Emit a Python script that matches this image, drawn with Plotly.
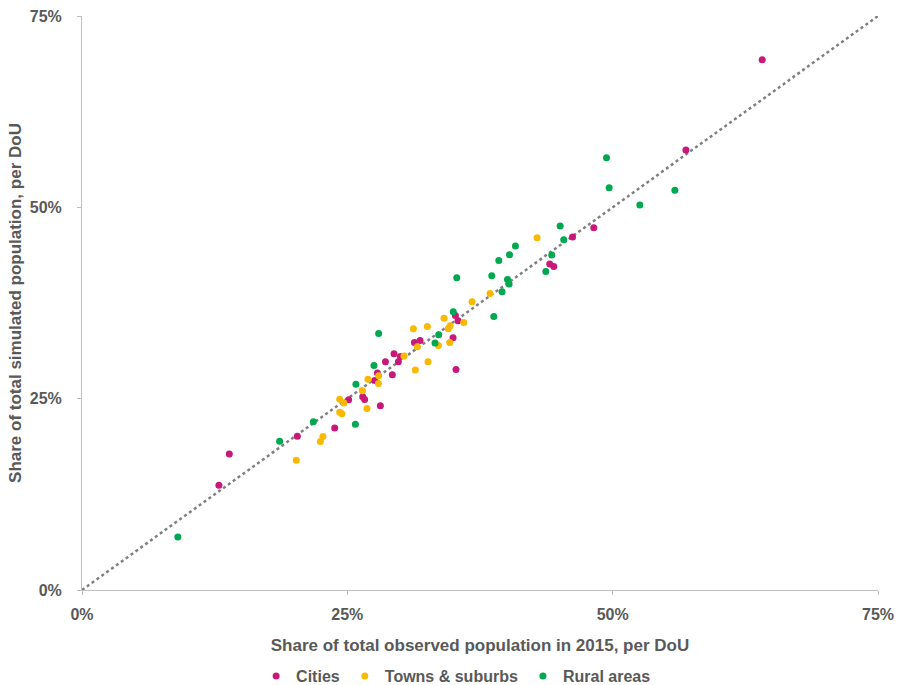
import plotly.graph_objects as go

# Share of total observed population in 2015 (x) vs simulated (y), per DoU, in %
cities_x = [64.09, 56.90, 48.22, 46.22, 44.07, 44.45, 35.18, 35.43, 34.96, 31.32, 31.85, 29.40, 28.59, 30.00,
            29.81, 35.24, 27.83, 29.24, 27.58, 26.45, 26.63, 25.12, 28.11, 23.81, 20.29, 13.88, 12.90]
cities_y = [69.27, 57.50, 47.34, 46.12, 42.59, 42.28, 35.87, 35.18, 32.95, 32.34, 32.60, 30.86, 29.82, 30.51,
            29.82, 28.81, 28.34, 28.12, 27.37, 25.24, 24.89, 24.85, 24.06, 21.18, 20.10, 17.78, 13.69]

towns_x = [42.88, 38.45, 36.75, 34.11, 34.69, 34.51, 35.97, 32.54, 31.22, 33.58, 34.65, 31.60, 30.34, 32.60,
           31.41, 27.95, 26.94, 27.93, 26.42, 24.28, 24.68, 24.28, 24.49, 26.85, 22.70, 22.46, 20.19]
towns_y = [46.03, 38.75, 37.66, 35.50, 34.52, 34.13, 34.95, 34.43, 34.13, 31.95, 32.34, 31.78, 30.56, 29.82,
           28.73, 27.98, 27.55, 26.98, 26.02, 24.94, 24.45, 23.24, 23.02, 23.71, 20.05, 19.39, 16.96]

rural_x = [49.42, 49.67, 55.86, 52.56, 45.05, 45.39, 40.84, 40.28, 39.27, 44.26, 43.70, 35.31, 38.61, 40.09,
           40.24, 39.58, 38.80, 34.98, 33.61, 33.26, 27.95, 27.51, 25.81, 21.80, 25.76, 18.62, 9.03]
rural_y = [56.49, 52.57, 52.22, 50.31, 47.56, 45.77, 44.95, 43.81, 43.06, 43.77, 41.62, 40.80, 41.06, 40.58,
           39.98, 38.97, 35.74, 36.35, 33.35, 32.26, 33.52, 29.33, 26.90, 21.97, 21.67, 19.45, 6.93]

diag = [0, 75]
tick_vals = [0, 25, 50, 75]
tick_text = ["0%", "25%", "50%", "75%"]

GRAY = "#595959"
FONT = "Arial, Liberation Sans, sans-serif"

fig = go.Figure()
fig.add_trace(go.Scatter(x=diag, y=diag, mode="lines", showlegend=False, hoverinfo="skip",
                         line=dict(color="#7f7f7f", width=2.5, dash="dot")))
fig.add_trace(go.Scatter(x=cities_x, y=cities_y, mode="markers", name="<b>Cities</b>",
                         marker=dict(color="#c8197a", size=7)))
fig.add_trace(go.Scatter(x=towns_x, y=towns_y, mode="markers", name="<b>Towns & suburbs</b>",
                         marker=dict(color="#fbb800", size=7)))
fig.add_trace(go.Scatter(x=rural_x, y=rural_y, mode="markers", name="<b>Rural areas</b>",
                         marker=dict(color="#00a84f", size=7)))

bold_ticks = ["<b>" + t + "</b>" for t in tick_text]
axis_common = dict(
    range=[0, 75], tickvals=tick_vals, ticktext=bold_ticks, showgrid=False, zeroline=False,
    showline=True, linecolor="#bfbfbf", linewidth=1, ticks="outside", ticklen=4, tickcolor="#bfbfbf",
    tickfont=dict(family=FONT, size=16, color=GRAY), automargin=False,
)

fig.update_layout(
    width=898, height=685, autosize=False,
    margin=dict(l=82, r=20, t=16, b=95),
    plot_bgcolor="white", paper_bgcolor="white",
    xaxis=dict(**axis_common, ticklabelstandoff=6,
               title=dict(text="<b>Share of total observed population in 2015, per DoU</b>",
                          font=dict(family=FONT, size=17, color=GRAY), standoff=16)),
    yaxis=dict(**axis_common, ticklabelstandoff=12,
               title=dict(text="<b>Share of total simulated population, per DoU</b>",
                          font=dict(family=FONT, size=17, color=GRAY), standoff=3)),
    legend=dict(orientation="h", x=0.47, xanchor="center", yref="container", y=9 / 685, yanchor="middle",
                font=dict(family=FONT, size=16, color=GRAY), itemwidth=30, itemclick=False,
                tracegroupgap=0),
    font=dict(family=FONT, color=GRAY),
)

fig.write_html("out.html")
